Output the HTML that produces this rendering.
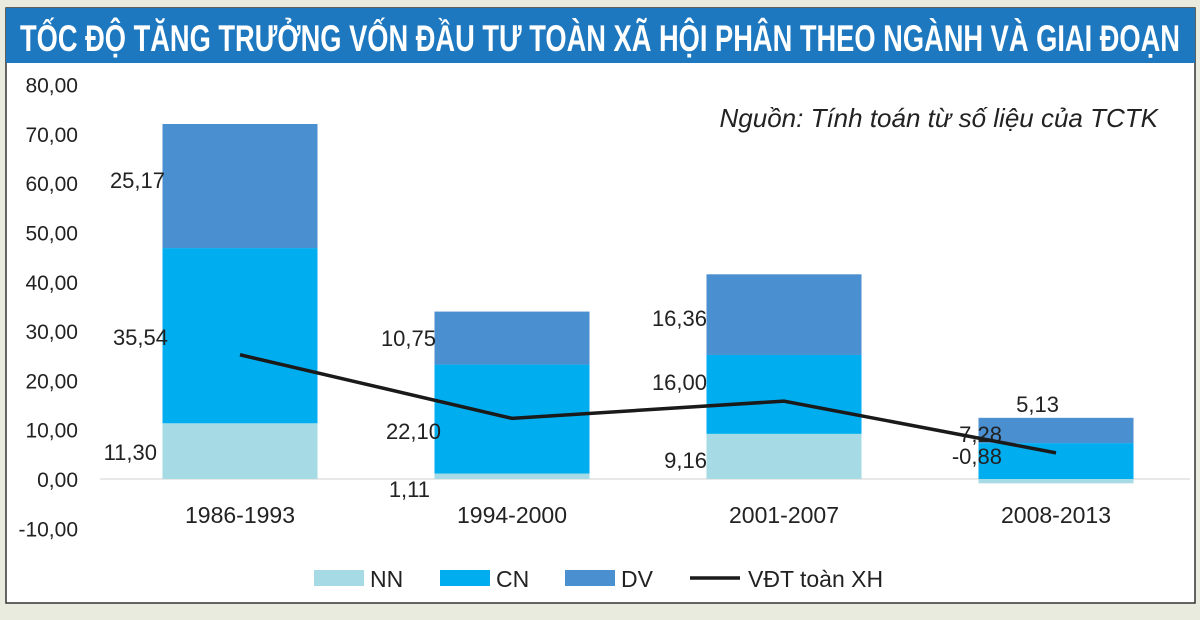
<!DOCTYPE html>
<html><head><meta charset="utf-8"><style>
body{margin:0;background:#e8ebdd;width:1200px;height:615px;overflow:hidden;font-family:"Liberation Sans",sans-serif}
</style></head><body>
<svg width="1200" height="615" xmlns="http://www.w3.org/2000/svg">
<rect x="6" y="8" width="1189" height="595" fill="#fff" stroke="#333" stroke-width="1.5"/>
<rect x="6" y="8" width="1189" height="55" fill="#1d78bf"/>
<text x="600" y="51" text-anchor="middle" fill="#fff" font-size="37" font-weight="bold" font-family="'Liberation Sans Narrow','Liberation Sans',sans-serif" textLength="1160" lengthAdjust="spacingAndGlyphs">TỐC ĐỘ TĂNG TRƯỞNG VỐN ĐẦU TƯ TOÀN XÃ HỘI PHÂN THEO NGÀNH VÀ GIAI ĐOẠN</text>
<text x="1158" y="127" text-anchor="end" font-size="26" font-style="italic" fill="#222">Nguồn: Tính toán từ số liệu của TCTK</text>
<g id="g"></g>
</svg>
<script>
const categories=["1986-1993","1994-2000","2001-2007","2008-2013"];
const nn=[11.30,1.11,9.16,-0.88];
const cn=[35.54,22.10,16.00,7.28];
const dv=[25.17,10.75,16.36,5.13];
const total=[25.2,12.3,15.8,5.3];
const yTicks=[80,70,60,50,40,30,20,10,0,-10];
const NS="http://www.w3.org/2000/svg";
const g=document.getElementById('g');
const y=v=>479-v*4.93;
const xc=i=>240+i*272;
const bw=155;
function mk(t,a){const e=document.createElementNS(NS,t);for(const k in a)e.setAttribute(k,a[k]);g.appendChild(e);return e;}
const fmt=v=>v.toFixed(2).replace('.',',');
yTicks.forEach(v=>{const t=mk('text',{x:78,y:y(v)+8,'text-anchor':'end','font-size':21,fill:'#222'});t.textContent=fmt(v);

});
const base=mk('line',{x1:100,x2:1190,y1:y(0),y2:y(0),stroke:'#d0d0d0','stroke-width':1});


const cols=['#a6dbe5','#00adef','#4a8fd0'];
const series=[nn,cn,dv];
const names=['nn','cn','dv'];
categories.forEach((c,i)=>{
 let pos=0;
 series.forEach((s,k)=>{const v=s[i];let y0,y1;
  if(v>=0){y0=y(pos+v);y1=y(pos);pos+=v;}else{y0=y(0);y1=y(v);}
  const r=mk('rect',{x:xc(i)-bw/2,y:y0,width:bw,height:y1-y0,fill:cols[k]});
  
  
 });
 const t=mk('text',{x:xc(i),y:523,'text-anchor':'middle','font-size':23,fill:'#222'});t.textContent=c;
 
 
});
const lab=[[nn,[157,430,707,1002],[452,489,460,456]],[cn,[168,441,707,1002],[337,431,382,434]],[dv,[165,436,707,1059],[180,338,318,404]]];
lab.forEach((L,k)=>L[0].forEach((v,i)=>{const t=mk('text',{x:L[1][i],y:L[2][i]+8,'text-anchor':'end','font-size':22,fill:'#222'});t.textContent=fmt(v);
 
 }));
const pl=mk('polyline',{points:total.map((v,i)=>xc(i)+','+y(v)).join(' '),fill:'none',stroke:'#1a1a1a','stroke-width':3.5});


const leg=[['NN',314,'#a6dbe5'],['CN',440,'#00adef'],['DV',565,'#4a8fd0']];
leg.forEach(l=>{const r=mk('rect',{x:l[1],y:570,width:50,height:16,fill:l[2]});
 
 
 const t=mk('text',{x:l[1]+56,y:587,'font-size':23,fill:'#222'});t.textContent=l[0];
 
 });
const ll=mk('line',{x1:690,x2:740,y1:578,y2:578,stroke:'#1a1a1a','stroke-width':3.5});


const lt=mk('text',{x:748,y:587,'font-size':23,fill:'#222'});lt.textContent='VĐT toàn XH';


</script>
</body></html>
